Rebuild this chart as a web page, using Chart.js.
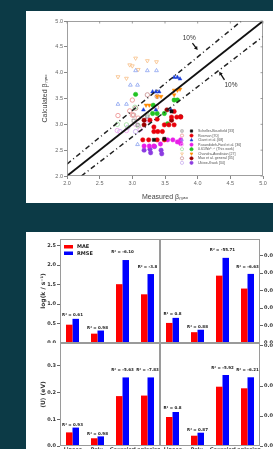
<!DOCTYPE html>
<html>
<head>
<meta charset="utf-8">
<script src="https://cdn.jsdelivr.net/npm/chart.js@4.4.0/dist/chart.umd.min.js"></script>
<style>
  html, body { margin: 0; padding: 0; width: 273px; height: 449px; overflow: hidden; background: #0c3a46; }
  .panel { position: absolute; background: #ffffff; }
  canvas { position: absolute; }
</style>
</head>
<body>
<div class="panel" style="left:26px;top:11px;width:260px;height:192px"></div>
<div class="panel" style="left:26px;top:232px;width:260px;height:230px"></div>
<canvas id="scatter" width="260" height="192" style="left:26px;top:11px"></canvas>
<canvas id="barTL" width="134" height="109" style="left:26px;top:234px"></canvas>
<canvas id="barTR" width="140" height="109" style="left:160px;top:234px"></canvas>
<canvas id="barBL" width="134" height="115" style="left:26px;top:343px"></canvas>
<canvas id="barBR" width="140" height="115" style="left:160px;top:343px"></canvas>
<script>
// --- scatter data: measured vs calculated beta_max, [x, y] pairs ---
const betaTicks = [2.0, 2.5, 3.0, 3.5, 4.0, 4.5, 5.0];

const schellerOpen = [[3.08, 2.99], [3.02, 3.07], [3.23, 3.15]];
const schellerFilled = [[3.33, 2.7], [3.6, 3.25], [3.49, 2.72]];
const rosmanOpen = [[2.78, 3.17], [3.0, 3.47], [2.96, 3.26], [3.09, 3.12], [3.37, 3.33], [3.0, 3.18]];
const rosmanFilled = [[3.64, 3.25], [3.6, 3.14], [3.68, 3.14], [3.74, 3.14], [3.49, 2.99], [3.56, 2.99], [3.64, 2.99],
  [3.33, 2.95], [3.33, 2.86], [3.39, 2.86], [3.46, 2.86], [3.16, 2.7], [3.25, 2.7], [3.38, 2.7], [3.49, 2.7],
  [3.27, 3.08], [3.38, 3.1]];
const claretOpen = [[3.05, 4.04], [3.23, 4.04], [3.37, 4.04], [2.97, 3.76], [3.08, 3.76], [2.78, 3.39], [2.91, 3.39], [3.08, 2.61]];
const claretFilled = [[3.64, 3.91], [3.69, 3.91], [3.73, 3.88], [3.31, 3.63], [3.36, 3.63], [3.41, 3.63], [3.36, 3.28], [3.17, 3.28], [3.59, 3.28]];
const pasandidehOpen = [[2.77, 2.88], [2.91, 2.88], [3.05, 3.0], [3.12, 2.9], [3.23, 3.08]];
const pasandidehFilled = [[3.18, 2.58], [3.26, 2.58], [3.33, 2.58], [3.43, 2.62], [3.54, 2.7], [3.62, 2.7], [3.69, 2.66], [3.74, 2.7], [3.74, 2.63]];
const thisWorkOpen = [[2.77, 3.0], [2.91, 2.99], [3.04, 3.33], [3.23, 3.18], [3.09, 2.97]];
const thisWorkFilled = [[3.05, 3.58], [3.64, 3.47], [3.69, 3.47], [3.32, 3.37], [3.31, 3.21], [3.38, 3.21], [3.49, 3.21], [3.54, 3.01]];
const chandraOpen = [[3.05, 4.28], [2.96, 4.15], [3.23, 4.23], [3.37, 4.21], [2.78, 3.92], [2.91, 3.89], [3.09, 4.06], [3.0, 4.13]];
const chandraFilled = [[3.64, 3.66], [3.69, 3.66], [3.73, 3.68], [3.38, 3.54], [3.44, 3.54], [3.21, 3.37], [3.26, 3.37], [3.64, 3.57]];
const maoOpen = [[3.23, 3.57], [3.05, 3.31], [3.02, 3.18], [3.38, 3.54]];
const maoFilled = [[3.53, 3.28], [3.18, 2.99], [3.6, 3.08], [3.74, 3.15], [3.18, 3.08]];
const ukiweOpen = [[2.93, 2.94], [3.05, 2.86], [3.23, 3.1], [2.81, 2.86]];
const ukiweFilled = [[3.18, 2.5], [3.27, 2.52], [3.34, 2.57], [3.44, 2.5], [3.45, 2.43], [3.28, 2.45]];

const seriesNames = ['Scheller-Bousfield [33]', 'Rosman [70]', 'Claret et al. [68]', 'Pasandideh-Fard et al. [36]',
  '0.61We⁰·²⁵ (This work)', 'Chandra-Avedisian [27]', 'Mao et al. general [35]', 'Ukiwe-Kwok [34]'];
const seriesOpen = [schellerOpen, rosmanOpen, claretOpen, pasandidehOpen, thisWorkOpen, chandraOpen, maoOpen, ukiweOpen];
const seriesFilled = [schellerFilled, rosmanFilled, claretFilled, pasandidehFilled, thisWorkFilled, chandraFilled, maoFilled, ukiweFilled];

// reference lines (y = x and the +/-10% bands)
const lineEqual = [[2, 2], [5, 5]];
const lineUpper = [[2, 2.23], [4.67, 5]];
const lineLower = [[2.22, 2.0], [5, 4.7]];
// "10%" notes: text anchor and arrow tail -> tip, in data units
const pctNotes = [
  { text: '10%', x: 3.87, y: 4.66, from: [3.92, 4.57], to: [4.0, 4.44] },
  { text: '10%', x: 4.51, y: 3.76, from: [4.41, 3.86], to: [4.33, 4.02] }
];

// --- bar data ---
const methods = ['Linear', 'Poly.', 'Gaussian', 'Laplacian'];
const maeLogK = [0.47, 0.24, 1.51, 1.25];
const rmseLogK = [0.62, 0.32, 2.13, 1.77];
const r2LogK = ['R² = 0.61', 'R² = 0.98', 'R² = -6.10', 'R² = -3.8'];
const maeRightTop = [0.00575, 0.0031, 0.0193, 0.0156];
const rmseRightTop = [0.0072, 0.0038, 0.0244, 0.0198];
const r2RightTop = ['R² = 0.8', 'R² = 0.88', 'R² = -55.71', 'R² = -6.63'];
const maeU = [0.051, 0.029, 0.187, 0.189];
const rmseU = [0.069, 0.036, 0.257, 0.257];
const r2U = ['R² = 0.93', 'R² = 0.98', 'R² = -5.63', 'R² = -7.83'];
const maeRightBottom = [0.0029, 0.00103, 0.00593, 0.00577];
const rmseRightBottom = [0.0034, 0.00133, 0.0071, 0.00687];
const r2RightBottom = ['R² = 0.8', 'R² = 0.87', 'R² = -5.92', 'R² = -6.21'];

const ticksLogK = [0, 0.5, 1.0, 1.5, 2.0, 2.5];
const ticksRightTop = [0, 0.005, 0.01, 0.015, 0.02, 0.025];
const ticksU = [0, 0.1, 0.2, 0.3];
const ticksRightBottom = [0, 0.003, 0.006, 0.01];

Chart.defaults.font.family = 'DejaVu Sans';
Chart.defaults.animation = false;

// --- marker helper ---
const colors = ['#111111', '#e8000b', '#1d3fd8', '#e81ee8', '#22c322', '#ff8a00', '#9b0000', '#8b3be0'];
const openColors = ['#8a8a8a', '#ec8a8a', '#8aa2f0', '#f2a6f2', '#9bdc9b', '#f7be84', '#c48888', '#c4a6ef'];
const shapes = ['rect', 'circle', 'triangle', 'circle', 'circle', 'triangle', 'circle', 'circle'];
const rotations = [0, 0, 0, 0, 0, 180, 0, 0];

function drawMarker(ctx, style, x, y, r, rot) {
  if (Chart.helpers && Chart.helpers.drawPoint) {
    Chart.helpers.drawPoint(ctx, { pointStyle: style, radius: r, rotation: rot, borderWidth: ctx.lineWidth }, x, y);
    return;
  }
  ctx.beginPath();
  ctx.arc(x, y, r, 0, Math.PI * 2);
  ctx.fill();
  ctx.stroke();
}

// frame around the plot area (+ optional mirrored ticks on top/right)
const framePlugin = {
  id: 'frame',
  afterDraw(chart, args, opts) {
    const a = chart.chartArea, ctx = chart.ctx;
    ctx.save();
    ctx.strokeStyle = opts.color || '#999';
    ctx.lineWidth = opts.width || 1;
    ctx.strokeRect(a.left + 0.5, a.top + 0.5, a.right - a.left - 1, a.bottom - a.top - 1);
    if (opts.mirror) {
      ctx.beginPath();
      chart.scales.x.ticks.forEach(t => {
        const x = chart.scales.x.getPixelForValue(t.value);
        ctx.moveTo(x, a.top); ctx.lineTo(x, a.top + 2.5);
      });
      chart.scales.y.ticks.forEach(t => {
        const y = chart.scales.y.getPixelForValue(t.value);
        ctx.moveTo(a.right, y); ctx.lineTo(a.right - 2.5, y);
      });
      ctx.stroke();
    }
    ctx.restore();
  }
};

// legend of the scatter (open + filled marker per row)
const scatterLegend = {
  id: 'scatterLegend',
  afterDraw(chart) {
    const ctx = chart.ctx, a = chart.chartArea;
    const x0 = a.left + 115, y0 = a.top + 110, step = 4.55;
    ctx.save();
    seriesNames.forEach((name, i) => {
      const y = y0 + i * step;
      ctx.lineWidth = 0.7;
      ctx.strokeStyle = openColors[i];
      ctx.fillStyle = 'rgba(0,0,0,0)';
      drawMarker(ctx, shapes[i], x0, y, 1.6, rotations[i]);
      ctx.strokeStyle = colors[i];
      ctx.fillStyle = colors[i];
      drawMarker(ctx, shapes[i], x0 + 9.5, y, 1.6, rotations[i]);
      ctx.fillStyle = '#555';
      ctx.font = '3.6px "Liberation Sans"';
      ctx.textBaseline = 'middle';
      ctx.textAlign = 'left';
      ctx.fillText(name, x0 + 16, y);
    });
    ctx.restore();
  }
};

// "10%" notes with arrows
const pctPlugin = {
  id: 'pctNotes',
  afterDatasetsDraw(chart) {
    const ctx = chart.ctx, xs = chart.scales.x, ys = chart.scales.y;
    ctx.save();
    pctNotes.forEach(n => {
      ctx.fillStyle = '#333';
      ctx.font = '6.5px "Liberation Sans"';
      ctx.textAlign = 'center';
      ctx.textBaseline = 'middle';
      ctx.fillText(n.text, xs.getPixelForValue(n.x), ys.getPixelForValue(n.y));
      const x1 = xs.getPixelForValue(n.from[0]), y1 = ys.getPixelForValue(n.from[1]);
      const x2 = xs.getPixelForValue(n.to[0]), y2 = ys.getPixelForValue(n.to[1]);
      const ang = Math.atan2(y2 - y1, x2 - x1);
      ctx.strokeStyle = '#111';
      ctx.fillStyle = '#111';
      ctx.lineWidth = 1.3;
      ctx.beginPath();
      ctx.moveTo(x1, y1);
      ctx.lineTo(x2 - 2 * Math.cos(ang), y2 - 2 * Math.sin(ang));
      ctx.stroke();
      ctx.beginPath();
      ctx.moveTo(x2, y2);
      ctx.lineTo(x2 - 3.5 * Math.cos(ang) + 2 * Math.sin(ang), y2 - 3.5 * Math.sin(ang) - 2 * Math.cos(ang));
      ctx.lineTo(x2 - 3.5 * Math.cos(ang) - 2 * Math.sin(ang), y2 - 3.5 * Math.sin(ang) + 2 * Math.cos(ang));
      ctx.closePath();
      ctx.fill();
    });
    ctx.restore();
  }
};

function toPoints(arr) {
  return arr.map(p => ({ x: p[0], y: p[1] }));
}

function scatterDatasets() {
  const out = [];
  out.push({ type: 'line', data: toPoints(lineEqual), borderColor: '#111', borderWidth: 1.8, pointRadius: 0, order: 0 });
  out.push({ type: 'line', data: toPoints(lineUpper), borderColor: '#222', borderWidth: 1.5, borderDash: [5, 3, 1, 3], pointRadius: 0, order: 0 });
  out.push({ type: 'line', data: toPoints(lineLower), borderColor: '#222', borderWidth: 1.5, borderDash: [5, 3, 1, 3], pointRadius: 0, order: 0 });
  seriesNames.forEach((name, i) => {
    out.push({
      label: name + ' open', data: toPoints(seriesOpen[i]), pointStyle: shapes[i], rotation: rotations[i],
      pointRadius: 2.2, borderWidth: 0.8, borderColor: openColors[i], backgroundColor: 'rgba(0,0,0,0)', order: 2
    });
    out.push({
      label: name, data: toPoints(seriesFilled[i]), pointStyle: shapes[i], rotation: rotations[i],
      pointRadius: 2.2, borderWidth: 0.5, borderColor: colors[i], backgroundColor: colors[i], order: 1
    });
  });
  return out;
}

const axisGrey = '#666';
const tickFont = { family: 'Liberation Sans', size: 5.5 };

new Chart(document.getElementById('scatter'), {
  type: 'scatter',
  data: { datasets: scatterDatasets() },
  options: {
    responsive: false,
    layout: { padding: { top: 10, right: 23, left: 0, bottom: 0 } },
    plugins: { legend: { display: false }, tooltip: { enabled: false }, frame: { color: '#888', width: 0.8, mirror: true } },
    scales: {
      x: {
        type: 'linear', min: 2, max: 5,
        afterBuildTicks: s => { s.ticks = betaTicks.map(v => ({ value: v })); },
        afterFit: s => { s.height = 27; },
        ticks: { font: tickFont, color: axisGrey, padding: 1, callback: v => v.toFixed(1) },
        grid: { display: true, drawOnChartArea: false, tickLength: 3, color: '#888' },
        border: { display: false },
        title: { display: true, text: 'Measured βₘₐₓ', color: '#444', font: { family: 'Liberation Sans', size: 7 }, padding: { top: 0, bottom: 2 } }
      },
      y: {
        type: 'linear', min: 2, max: 5,
        afterBuildTicks: s => { s.ticks = betaTicks.map(v => ({ value: v })); },
        afterFit: s => { s.width = 41; },
        ticks: { font: tickFont, color: axisGrey, padding: 1, callback: v => v.toFixed(1) },
        grid: { display: true, drawOnChartArea: false, tickLength: 3, color: '#888' },
        border: { display: false },
        title: { display: true, text: 'Calculated βₘₐₓ', color: '#444', font: { family: 'Liberation Sans', size: 7 }, padding: { top: 15, bottom: 0 } }
      }
    }
  },
  plugins: [framePlugin, pctPlugin, scatterLegend]
});

// R² labels above each pair of bars
const r2Plugin = {
  id: 'r2Labels',
  afterDatasetsDraw(chart, args, opts) {
    const ctx = chart.ctx, xs = chart.scales.x, ys = chart.scales.y;
    const d0 = chart.data.datasets[0].data, d1 = chart.data.datasets[1].data;
    ctx.save();
    ctx.fillStyle = '#222';
    ctx.font = 'bold 4px "DejaVu Sans"';
    ctx.textAlign = 'center';
    ctx.textBaseline = 'middle';
    opts.texts.forEach((t, i) => {
      const top = Math.max(d0[i], d1[i]) * 1.08;
      ctx.fillText(t, xs.getPixelForValue(i), ys.getPixelForValue(top) - 1.5);
    });
    ctx.restore();
  }
};

// MAE / RMSE legend (top-left panel only)
const barLegend = {
  id: 'barLegend',
  afterDraw(chart, args, opts) {
    if (!opts.show) return;
    const ctx = chart.ctx, a = chart.chartArea;
    ctx.save();
    chart.data.datasets.forEach((ds, i) => {
      const y = a.top + 6 + i * 6.5;
      ctx.fillStyle = ds.backgroundColor;
      ctx.fillRect(a.left + 4, y, 9, 3.5);
      ctx.fillStyle = '#222';
      ctx.font = 'bold 5px "DejaVu Sans"';
      ctx.textBaseline = 'middle';
      ctx.fillText(ds.label, a.left + 17, y + 1.8);
    });
    ctx.restore();
  }
};

const barTickFont = { family: 'DejaVu Sans', size: 5, weight: 'bold' };

function barChart(id, cfg) {
  return new Chart(document.getElementById(id), {
    type: 'bar',
    data: {
      labels: methods,
      datasets: [
        { label: 'MAE', data: cfg.mae, backgroundColor: '#ff0000' },
        { label: 'RMSE', data: cfg.rmse, backgroundColor: '#0000ff' }
      ]
    },
    options: {
      responsive: false,
      layout: { padding: { top: cfg.padTop, left: 0, right: 0, bottom: 0 } },
      datasets: { bar: { categoryPercentage: 0.52, barPercentage: 1.0 } },
      plugins: {
        legend: { display: false }, tooltip: { enabled: false },
        r2Labels: { texts: cfg.r2 }, barLegend: { show: !!cfg.legend },
        frame: { color: '#9a9a9a', width: 1 }
      },
      scales: {
        x: {
          display: cfg.showX,
          afterFit: s => { s.height = cfg.showX ? 12 : 0; s.paddingLeft = 0; s.paddingRight = 0; },
          ticks: { font: barTickFont, color: '#333', padding: 1, autoSkip: false, maxRotation: 0 },
          grid: { display: false, drawTicks: false }, border: { display: false }
        },
        y: {
          position: cfg.side, min: 0, max: cfg.max,
          afterBuildTicks: s => { s.ticks = cfg.ticks.map(v => ({ value: v })); },
          afterFit: s => { s.width = cfg.side === 'left' ? 34 : 40; s.paddingTop = 0; s.paddingBottom = 0; },
          ticks: { font: barTickFont, color: '#333', padding: 1, callback: v => v.toFixed(cfg.dec) },
          grid: { display: true, drawOnChartArea: false, tickLength: 3, color: '#666' },
          border: { display: false },
          title: {
            display: !!cfg.title, text: cfg.title || '', color: '#333',
            font: { family: 'DejaVu Sans', size: 6, weight: 'bold' }, padding: { top: 14, bottom: 0 }
          }
        }
      }
    },
    plugins: [framePlugin, r2Plugin, barLegend]
  });
}

barChart('barTL', { mae: maeLogK, rmse: rmseLogK, r2: r2LogK, ticks: ticksLogK, max: 2.67, dec: 1, side: 'left', title: 'log(k / s⁻¹)', padTop: 5, showX: false, legend: true });
barChart('barTR', { mae: maeRightTop, rmse: rmseRightTop, r2: r2RightTop, ticks: ticksRightTop, max: 0.0298, dec: 3, side: 'right', padTop: 5, showX: false });
barChart('barBL', { mae: maeU, rmse: rmseU, r2: r2U, ticks: ticksU, max: 0.386, dec: 1, side: 'left', title: '⟨U⟩ (eV)', padTop: 0, showX: true });
barChart('barBR', { mae: maeRightBottom, rmse: rmseRightBottom, r2: r2RightBottom, ticks: ticksRightBottom, max: 0.0103, dec: 3, side: 'right', padTop: 0, showX: true });
</script>
</body>
</html>
